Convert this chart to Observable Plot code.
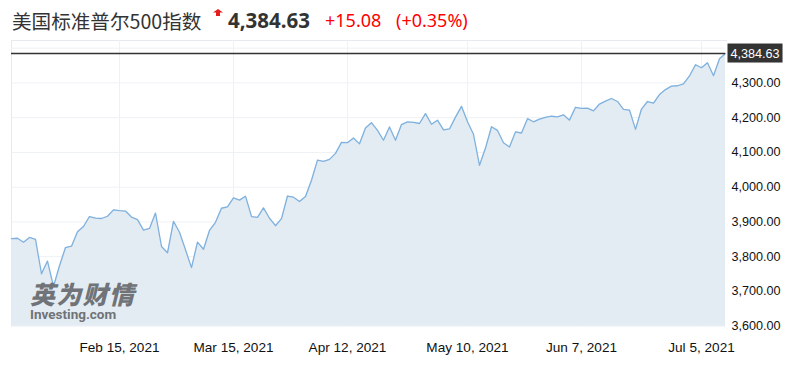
<!DOCTYPE html>
<html>
<head>
<meta charset="utf-8">
<script src="https://cdn.jsdelivr.net/npm/d3@7"></script>
<script src="https://cdn.jsdelivr.net/npm/@observablehq/plot@0.6"></script>
<style>
  html, body { margin: 0; padding: 0; background: #fff; }
  #wrap { position: relative; width: 809px; height: 376px; overflow: hidden; }
  #header { position: relative; height: 40px; width: 809px; }
  #header span { position: absolute; white-space: nowrap; }
  #title { left: 12px; top: 6px; font-family: "Noto Sans CJK SC", "Noto Sans", sans-serif; font-size: 19.6px; color: #333; }
  #arrow { left: 213px; top: 9px; line-height: 0; }
  #arrow svg { display: block; }
  #price { left: 228px; top: 6px; font-family: "Noto Sans", sans-serif; font-weight: bold; font-size: 20.5px; color: #333; }
  #chg { left: 325px; top: 8px; font-family: "Noto Sans", sans-serif; font-size: 18px; color: #f00; }
  #pct { left: 396px; top: 8px; font-family: "Noto Sans", sans-serif; font-size: 18px; color: #f00; }
  #wm { position: absolute; left: 30px; top: 281px; pointer-events: none; white-space: pre; color: #707377;
        font-family: Roboto, "Liberation Sans", sans-serif; font-weight: 700; font-size: 13.5px; line-height: 17px; }
  #wm::first-line { font-family: "Noto Sans CJK SC", sans-serif; font-weight: 900; font-style: italic; font-size: 25px; line-height: 25px; letter-spacing: 1.3px; }
</style>
</head>
<body>
<div id="wrap">
  <div id="header">
    <span id="title"></span>
    <span id="arrow"><svg width="10" height="7"><polygon points="5,0 10,3.5 7,3.5 7,7 3,7 3,3.5 0,3.5" fill="#e81c1c"/></svg></span>
    <span id="price"></span>
    <span id="chg"></span>
    <span id="pct"></span>
  </div>
  <div id="chart"></div>
  <div id="wm"></div>
</div>
<script>
// ---- data ----
const titleText = "美国标准普尔500指数";
const lastPriceText = "4,384.63";
const changeText = "+15.08";
const changePctText = "(+0.35%)";
const watermarkText = "英为财情\nInvesting.com";

const dates = [
  "2021-01-20","2021-01-21","2021-01-22","2021-01-25","2021-01-26","2021-01-27","2021-01-28","2021-01-29",
  "2021-02-01","2021-02-02","2021-02-03","2021-02-04","2021-02-05","2021-02-08","2021-02-09","2021-02-10",
  "2021-02-11","2021-02-12","2021-02-16","2021-02-17","2021-02-18","2021-02-19","2021-02-22","2021-02-23",
  "2021-02-24","2021-02-25","2021-02-26","2021-03-01","2021-03-02","2021-03-03","2021-03-04","2021-03-05",
  "2021-03-08","2021-03-09","2021-03-10","2021-03-11","2021-03-12","2021-03-15","2021-03-16","2021-03-17",
  "2021-03-18","2021-03-19","2021-03-22","2021-03-23","2021-03-24","2021-03-25","2021-03-26","2021-03-29",
  "2021-03-30","2021-03-31","2021-04-01","2021-04-05","2021-04-06","2021-04-07","2021-04-08","2021-04-09",
  "2021-04-12","2021-04-13","2021-04-14","2021-04-15","2021-04-16","2021-04-19","2021-04-20","2021-04-21",
  "2021-04-22","2021-04-23","2021-04-26","2021-04-27","2021-04-28","2021-04-29","2021-04-30","2021-05-03",
  "2021-05-04","2021-05-05","2021-05-06","2021-05-07","2021-05-10","2021-05-11","2021-05-12","2021-05-13",
  "2021-05-14","2021-05-17","2021-05-18","2021-05-19","2021-05-20","2021-05-21","2021-05-24","2021-05-25",
  "2021-05-26","2021-05-27","2021-05-28","2021-06-01","2021-06-02","2021-06-03","2021-06-04","2021-06-07",
  "2021-06-08","2021-06-09","2021-06-10","2021-06-11","2021-06-14","2021-06-15","2021-06-16","2021-06-17",
  "2021-06-18","2021-06-21","2021-06-22","2021-06-23","2021-06-24","2021-06-25","2021-06-28","2021-06-29",
  "2021-06-30","2021-07-01","2021-07-02","2021-07-06","2021-07-07","2021-07-08","2021-07-09","2021-07-12"
];
const closes = [
  3851.85,3853.07,3841.47,3855.36,3849.62,3750.77,3787.38,3714.24,
  3773.86,3826.31,3830.17,3871.74,3886.83,3915.59,3911.23,3909.88,
  3916.38,3934.83,3932.59,3931.33,3913.97,3906.71,3876.50,3881.37,
  3925.43,3829.34,3811.15,3901.82,3870.29,3819.72,3768.47,3841.94,
  3821.35,3875.44,3898.81,3939.34,3943.34,3968.94,3962.71,3974.12,
  3915.46,3913.10,3940.59,3910.52,3889.14,3909.52,3974.54,3971.09,
  3958.55,3972.89,4019.87,4077.91,4073.94,4079.95,4097.17,4128.80,
  4127.99,4141.59,4124.66,4170.42,4185.47,4163.26,4134.94,4173.42,
  4134.98,4180.17,4187.62,4186.72,4183.18,4211.47,4181.17,4192.66,
  4164.66,4167.59,4201.62,4232.60,4188.43,4152.10,4063.04,4112.50,
  4173.85,4163.29,4127.83,4115.68,4159.12,4155.86,4197.05,4188.13,
  4195.99,4200.88,4204.11,4202.04,4208.12,4192.85,4229.89,4226.52,
  4227.26,4219.55,4239.18,4247.44,4255.15,4246.59,4223.70,4221.86,
  4166.45,4224.79,4246.44,4241.84,4266.49,4280.70,4290.61,4291.80,
  4297.50,4319.94,4352.34,4343.54,4358.13,4320.82,4369.55,4384.63
];
const tickDates = ["2021-02-15","2021-03-15","2021-04-12","2021-05-10","2021-06-07","2021-07-05"];
const tickLabels = ["Feb 15, 2021","Mar 15, 2021","Apr 12, 2021","May 10, 2021","Jun 7, 2021","Jul 5, 2021"];
const yTicks = [3600, 3700, 3800, 3900, 4000, 4100, 4200, 4300];
const yGridTicks = [3600, 3700, 3800, 3900, 4000, 4100, 4200, 4300, 4400];
const yDomain = [3600, 4422];

// ---- build ----
document.getElementById("title").textContent = titleText;
document.getElementById("price").textContent = lastPriceText;
document.getElementById("chg").textContent = changeText;
document.getElementById("pct").textContent = changePctText;
document.getElementById("wm").textContent = watermarkText;

const data = closes.map((c, i) => ({i, date: dates[i], close: c}));
const tickIdx = tickDates.map(d => d3.bisectLeft(dates, d));
const ticks = tickIdx.map((i, k) => ({i, label: tickLabels[k]}));
const last = closes[closes.length - 1];
const fmt = d3.format(",.2f");

const W = 809, H = 336;
const xRange = [11, 725];
const yRange = [285.7, 0];

const plot = Plot.plot({
  width: W,
  height: H,
  marginTop: 0,
  marginBottom: 50,
  marginLeft: 11,
  marginRight: 84,
  x: {domain: [0, closes.length - 1], range: xRange, axis: null},
  y: {domain: yDomain, range: yRange, axis: null},
  style: {background: "transparent", fontFamily: "'Liberation Sans', Arial, sans-serif", overflow: "visible"},
  marks: [
    Plot.ruleY(yGridTicks, {y: d => d, stroke: "#eef1f5", strokeWidth: 1}),
    Plot.ruleX(ticks, {x: "i", stroke: "#eef1f5", strokeWidth: 1}),
    Plot.areaY(data, {x: "i", y1: yDomain[0], y2: "close", fill: "#e3ecf3"}),
    Plot.line(data, {x: "i", y: "close", stroke: "#7fb1de", strokeWidth: 1.3}),
    Plot.ruleY([last], {y: d => d, stroke: "#333", strokeWidth: 1.6}),
    Plot.text(ticks, {x: "i", text: "label", frameAnchor: "bottom", lineAnchor: "top", dy: 16, fontSize: 13.6, fill: "#111"}),
    Plot.text(yTicks, {y: d => d, text: d => fmt(d), frameAnchor: "right", textAnchor: "start", dx: 6, fontSize: 12.6, fill: "#111"}),
    Plot.text([last], {y: d => d, text: d => fmt(d), frameAnchor: "right", textAnchor: "start", dx: 5, fontSize: 12.6, fill: "#fff"})
  ]
});
document.getElementById("chart").appendChild(plot);

// plot frame (left & top) lines
const svg = d3.select(plot);
svg.insert("path", ":first-child")
  .attr("d", `M${xRange[0] + 0.5},${yRange[0]}V0.5H${xRange[1] + 2}`)
  .attr("fill", "none").attr("stroke", "#e6e9ef");

// dark box behind last-value label (in the text's own coordinate system)
const texts = plot.querySelectorAll("text");
const lastText = texts[texts.length - 1];
const bb = lastText.getBBox();
const rect = document.createElementNS("http://www.w3.org/2000/svg", "rect");
rect.setAttribute("x", bb.x - 3);
rect.setAttribute("y", bb.y - 3);
rect.setAttribute("width", bb.width + 6);
rect.setAttribute("height", bb.height + 5);
rect.setAttribute("fill", "#333");
const tf = lastText.getAttribute("transform");
if (tf) rect.setAttribute("transform", tf);
lastText.parentNode.insertBefore(rect, lastText);
</script>
</body>
</html>
